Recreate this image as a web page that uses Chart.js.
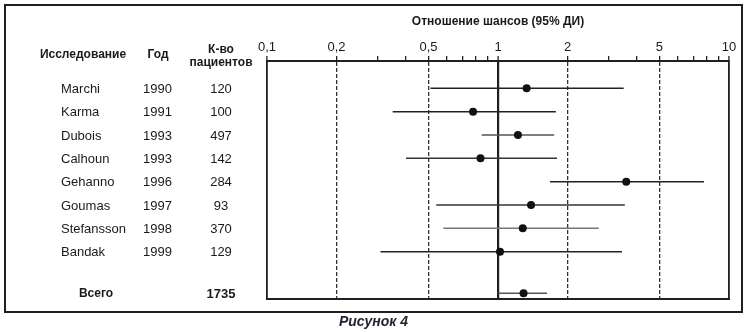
<!DOCTYPE html>
<html>
<head>
<meta charset="utf-8">
<script src="https://cdn.jsdelivr.net/npm/chart.js@4"></script>
<style>
  html, body { margin: 0; padding: 0; background: #fff; }
  #wrap { position: relative; width: 747px; height: 332px; }
  #frame {
    position: absolute; left: 4px; top: 4px; width: 739px; height: 309px;
    box-sizing: border-box; border: 2px solid #1f1f1f;
  }
  #chartBox { position: absolute; left: 0; top: 0; width: 747px; height: 332px; }
  #caption {
    position: absolute; left: 0; width: 747px; top: 313px; text-align: center;
    font: italic bold 14px "Liberation Sans", Arial, sans-serif; color: #1d2030;
  }
</style>
</head>
<body>
<div id="wrap">
  <div id="frame"></div>
  <div id="chartBox"><canvas id="forest"></canvas></div>
  <div id="caption">Рисунок 4</div>
</div>
<script>
// Studies in the meta-analysis
const studies = ['Marchi', 'Karma', 'Dubois', 'Calhoun', 'Gehanno', 'Goumas', 'Stefansson', 'Bandak'];
const years = [1990, 1991, 1993, 1993, 1996, 1997, 1998, 1999];
const patients = [120, 100, 497, 142, 284, 93, 370, 129];
const oddsRatio = [1.33, 0.78, 1.22, 0.84, 3.59, 1.39, 1.28, 1.02];
const ciLow = [0.51, 0.35, 0.85, 0.40, 1.68, 0.54, 0.58, 0.31];
const ciHigh = [3.50, 1.78, 1.75, 1.80, 7.79, 3.54, 2.73, 3.44];

// Pooled result
const totalLabel = 'Всего';
const totalPatients = 1735;
const totalOR = 1.29;
const totalLow = 1.0;
const totalHigh = 1.63;

// Axis ticks (log scale), the labelled ones and the dashed reference lines
const axisTicks = [0.1, 0.2, 0.3, 0.4, 0.5, 0.6, 0.7, 0.8, 0.9, 1, 2, 3, 4, 5, 6, 7, 8, 9, 10];
const labeledTicks = [0.1, 0.2, 0.5, 1, 2, 5, 10];
const dashedTicks = [0.2, 0.5, 2, 5];

const axisTitle = 'Отношение шансов (95% ДИ)';
const headStudy = 'Исследование';
const headYear = 'Год';
const headCount = ['К-во', 'пациентов'];

const FONT = '"Liberation Sans", Arial, sans-serif';
const INK = '#1a1a1a';

// shade of each CI line (last one is the pooled row)
const ciShade = ['#222', '#222', '#555', '#333', '#222', '#333', '#777', '#222', '#555'];

const totalRow = studies.length + 1.78;
const rowOf = i => i + 1;

const ciSets = studies.map((s, i) => ({
  label: s,
  data: [{ x: ciLow[i], y: rowOf(i) }, { x: ciHigh[i], y: rowOf(i) }],
  showLine: true,
  borderColor: ciShade[i],
  borderWidth: 1.5,
  pointRadius: 0
}));
ciSets.push({
  label: totalLabel,
  data: [{ x: totalLow, y: totalRow }, { x: totalHigh, y: totalRow }],
  showLine: true,
  borderColor: ciShade[studies.length],
  borderWidth: 1.5,
  pointRadius: 0
});

const pointSet = {
  label: 'OR',
  data: oddsRatio.map((v, i) => ({ x: v, y: rowOf(i) })).concat([{ x: totalOR, y: totalRow }]),
  pointRadius: 4,
  pointBackgroundColor: '#111',
  pointBorderWidth: 0,
  showLine: false
};

// left-hand table, aligned to the rows of the y scale
const tablePlugin = {
  id: 'studyTable',
  afterDraw(chart) {
    const ctx = chart.ctx;
    const y = chart.scales.y;
    ctx.save();
    ctx.fillStyle = INK;
    ctx.textBaseline = 'middle';

    ctx.font = 'bold 12px ' + FONT;
    ctx.textAlign = 'center';
    ctx.fillText(headStudy, 83, 55);
    ctx.fillText(headYear, 158, 55);
    ctx.fillText(headCount[0], 221, 50);
    ctx.fillText(headCount[1], 221, 63);

    ctx.font = '13px ' + FONT;
    studies.forEach((s, i) => {
      const py = y.getPixelForValue(rowOf(i)) + 1;
      ctx.textAlign = 'left';
      ctx.fillText(s, 61, py);
      ctx.textAlign = 'center';
      ctx.fillText(String(years[i]), 157.5, py);
      ctx.fillText(String(patients[i]), 221, py);
    });

    const ty = y.getPixelForValue(totalRow) + 1;
    ctx.font = 'bold 12px ' + FONT;
    ctx.fillText(totalLabel, 96, ty);
    ctx.font = 'bold 13px ' + FONT;
    ctx.fillText(String(totalPatients), 221, ty);
    ctx.restore();
  }
};

new Chart(document.getElementById('forest'), {
  type: 'scatter',
  data: { datasets: [pointSet].concat(ciSets) },
  plugins: [tablePlugin],
  options: {
    responsive: true,
    maintainAspectRatio: false,
    animation: false,
    layout: { padding: { left: 267, right: 18, top: 10, bottom: 33 } },
    plugins: { legend: { display: false }, tooltip: { enabled: false } },
    scales: {
      x: {
        type: 'logarithmic',
        position: 'top',
        min: 0.1,
        max: 10,
        afterBuildTicks: s => { s.ticks = axisTicks.map(v => ({ value: v })); },
        afterFit: s => { s.height = 51; },
        title: {
          display: true,
          text: axisTitle,
          color: INK,
          font: { family: FONT, size: 12, weight: 'bold' },
          padding: { top: 4, bottom: 0 }
        },
        ticks: {
          autoSkip: false,
          maxRotation: 0,
          padding: 1,
          color: INK,
          font: { family: FONT, size: 13 },
          callback: v => labeledTicks.includes(v) ? String(v).replace('.', ',') : ''
        },
        grid: {
          drawTicks: true,
          tickLength: 5,
          tickColor: '#222',
          tickWidth: 1.3,
          color: c => {
            const v = c.tick && c.tick.value;
            if (v === 1 || v === 0.1 || v === 10) return '#1f1f1f';
            if (dashedTicks.includes(v)) return '#333';
            return 'rgba(0,0,0,0)';
          },
          lineWidth: c => {
            const v = c.tick && c.tick.value;
            if (v === 1) return 2.2;
            if (v === 0.1 || v === 10) return 1.8;
            return 1.3;
          }
        },
        border: {
          display: true,
          color: '#1f1f1f',
          width: 2,
          dash: c => (c.tick && dashedTicks.includes(c.tick.value)) ? [4, 2] : []
        }
      },
      xb: {
        type: 'logarithmic',
        position: 'bottom',
        min: 0.1,
        max: 10,
        afterFit: s => { s.height = 0; },
        ticks: { display: false },
        grid: { display: false, drawTicks: false },
        border: { display: true, color: '#1f1f1f', width: 2 }
      },
      y: {
        type: 'linear',
        reverse: true,
        min: -0.17,
        max: 10.03,
        display: false
      }
    }
  }
});
</script>
</body>
</html>
